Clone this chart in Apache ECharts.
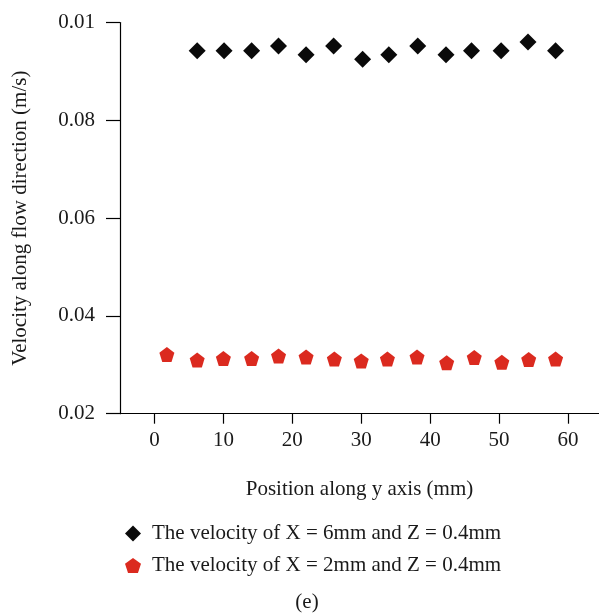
<!DOCTYPE html>
<html><head><meta charset="utf-8">
<script src="https://cdn.jsdelivr.net/npm/echarts@6/dist/echarts.min.js"></script>
<style>html,body{margin:0;padding:0;background:#fff}#c{width:599px;height:616px}</style>
</head><body><div id="c"></div>
<script>
const xBlack = [6.2, 10.1, 14.1, 18, 22, 26, 30.2, 34, 38.2, 42.3, 46, 50.3, 54.2, 58.2];
const yBlack = [0.0942, 0.0942, 0.0942, 0.0952, 0.0934, 0.0952, 0.0925, 0.0934, 0.0952, 0.0934, 0.0942, 0.0942, 0.0960, 0.0942];
const xRed = [1.8, 6.2, 10, 14.1, 18, 22, 26.1, 30, 33.8, 38.1, 42.4, 46.4, 50.4, 54.3, 58.2];
const yRed = [0.0321, 0.0310, 0.0313, 0.0313, 0.0318, 0.0316, 0.0312, 0.0308, 0.0312, 0.0316, 0.0304, 0.0315, 0.0305, 0.0311, 0.0312];
const xTicks = [0, 10, 20, 30, 40, 50, 60];
const yTickLabels = ['0.02', '0.04', '0.06', '0.08', '0.01'];
const seriesNames = ['The velocity of X = 6mm and Z = 0.4mm', 'The velocity of X = 2mm and Z = 0.4mm'];

const font = 'Liberation Serif';
const fs = 21;
const txt = '#1a1a1a';
const pentagon = 'path://M0,-1 L0.951,-0.309 L0.588,0.809 L-0.588,0.809 L-0.951,-0.309 Z';
const chart = echarts.init(document.getElementById('c'));
chart.setOption({
  animation: false,
  textStyle: {fontFamily: font},
  grid: {left: 120, top: 22.5, right: 0, bottom: 202.3, containLabel: false, outerBoundsMode: 'none'},
  xAxis: {
    type: 'value', min: -5, max: 64.5,
    name: 'Position along y axis (mm)', nameLocation: 'middle', nameGap: 65,
    nameTextStyle: {fontFamily: font, fontSize: fs, color: txt},
    axisLine: {show: true, onZero: false, lineStyle: {color: '#000', width: 1.2}},
    axisTick: {show: true, length: 10, lineStyle: {color: '#000', width: 1.2}, customValues: xTicks},
    axisLabel: {fontFamily: font, fontSize: fs, color: txt, margin: 16, customValues: xTicks},
    splitLine: {show: false}
  },
  yAxis: {
    type: 'value', min: 0.02, max: 0.10, interval: 0.02,
    name: 'Velocity along flow direction (m/s)', nameLocation: 'middle', nameGap: 89,
    nameTextStyle: {fontFamily: font, fontSize: fs, color: txt},
    axisLine: {show: true, onZero: false, lineStyle: {color: '#000', width: 1.2}},
    axisTick: {show: true, length: 14, lineStyle: {color: '#000', width: 1.2}},
    axisLabel: {fontFamily: font, fontSize: fs, color: txt, margin: 25,
      formatter: function (v) { return yTickLabels[Math.round((v - 0.02) / 0.02)]; }},
    splitLine: {show: false}
  },
  legend: {
    orient: 'vertical', left: 120, top: 518, itemWidth: 16, itemHeight: 16, itemGap: 11,
    textStyle: {fontFamily: font, fontSize: fs, color: txt, padding: [0, 0, 0, 6]},
    data: [{name: seriesNames[0], icon: 'diamond'}, {name: seriesNames[1], icon: pentagon}]
  },
  graphic: [{type: 'text', x: 307, y: 602, style: {text: '(e)', fontFamily: font, fontSize: fs, fill: txt, align: 'center', verticalAlign: 'middle'}}],
  series: [
    {name: seriesNames[0], type: 'scatter', symbol: 'diamond', symbolSize: 17,
     itemStyle: {color: '#0a0a0a', opacity: 1}, data: xBlack.map((x, i) => [x, yBlack[i]])},
    {name: seriesNames[1], type: 'scatter', symbol: pentagon, symbolSize: 15,
     itemStyle: {color: '#db2a1f', opacity: 1}, data: xRed.map((x, i) => [x, yRed[i]])}
  ]
});
</script></body></html>
